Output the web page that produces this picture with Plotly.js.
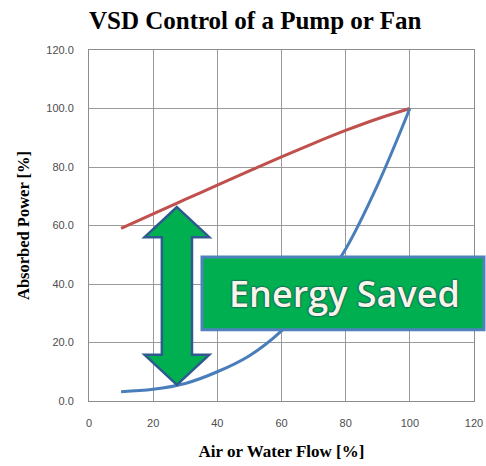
<!DOCTYPE html>
<html><head><meta charset="utf-8">
<script src="https://cdn.plot.ly/plotly-3.0.1.min.js"></script>
<style>html,body{margin:0;padding:0;background:#fff}#chart{width:486px;height:466px}</style>
</head><body><div id="chart"></div>
<script>
const flow = [10, 20, 30, 40, 50, 60, 70, 80, 90, 100];
const throttlePower = [59.0, 64.0, 68.9, 73.8, 78.7, 83.5, 88.1, 92.5, 96.5, 100.0];
const vsdPower = [3.2, 4.0, 6.0, 10.0, 15.5, 24.0, 36.0, 52.0, 74.0, 100.0];
const xTicks = [0, 20, 40, 60, 80, 100, 120];
const yTicks = [0, 20, 40, 60, 80, 100, 120];
const arrowX = 27.4, arrowTop = 66.3, arrowBottom = 5.5;

const hw = 10.1, sw = 4.7, hh = 10.3;
const arrowPath = `M ${arrowX},${arrowTop} L ${arrowX+hw},${arrowTop-hh} L ${arrowX+sw},${arrowTop-hh} L ${arrowX+sw},${arrowBottom+hh} L ${arrowX+hw},${arrowBottom+hh} L ${arrowX},${arrowBottom} L ${arrowX-hw},${arrowBottom+hh} L ${arrowX-sw},${arrowBottom+hh} L ${arrowX-sw},${arrowTop-hh} L ${arrowX-hw},${arrowTop-hh} Z`;

const traces = [
  {x: flow, y: throttlePower, mode: 'lines', line: {color: '#C0504D', width: 3, shape: 'spline'}, hoverinfo: 'skip'},
  {x: flow, y: vsdPower, mode: 'lines', line: {color: '#4A7EBB', width: 3, shape: 'spline'}, hoverinfo: 'skip'}
];
const axisCommon = {
  showgrid: true, gridcolor: '#9a9a9a', gridwidth: 1,
  showline: true, linecolor: '#8c8c8c', linewidth: 1, mirror: true,
  zeroline: false, ticks: '', tickfont: {family: 'Liberation Sans, Arial', size: 11, color: '#4d4d4d'},
  ticklabelstandoff: 12, fixedrange: true
};
const layout = {
  width: 486, height: 466,
  margin: {l: 89, r: 12, t: 50, b: 65},
  paper_bgcolor: '#fff', plot_bgcolor: '#fff',
  showlegend: false,
  title: {text: 'VSD Control of a Pump or Fan', x: 0.525, xanchor: 'center', y: 0.957, yanchor: 'middle',
    font: {family: 'Liberation Serif, serif', size: 25, color: '#000', weight: 'bold'}},
  xaxis: Object.assign({}, axisCommon, {range: [0, 120], tickvals: xTicks, ticktext: xTicks.map(String),
    title: {text: 'Air or Water Flow [%]', standoff: 16, font: {family: 'Liberation Serif, serif', size: 17, color: '#000', weight: 'bold'}}}),
  yaxis: Object.assign({}, axisCommon, {range: [0, 120], tickvals: yTicks, ticktext: yTicks.map(v => v.toFixed(1)),
    title: {text: 'Absorbed Power [%]', standoff: 12, font: {family: 'Liberation Serif, serif', size: 16.5, color: '#000', weight: 'bold'}}}),
  shapes: [
    {type: 'path', xref: 'x', yref: 'y', path: arrowPath, fillcolor: '#00B050', line: {color: '#2E5A8F', width: 2.5}, layer: 'above'},
    {type: 'rect', xref: 'paper', yref: 'paper', x0: 0.2935, x1: 1.026, y0: 0.203, y1: 0.41,
      fillcolor: '#00B050', line: {color: '#4F81BD', width: 3}, layer: 'above'}
  ],
  annotations: [
    {xref: 'paper', yref: 'paper', x: 0.663, y: 0.3065, xanchor: 'center', yanchor: 'middle', showarrow: false,
      text: 'Energy Saved', font: {family: 'Open Sans, sans-serif', size: 36, weight: 600, color: '#F7F5E6', shadow: '0 0 2px #1F3864, 0 0 2px #1F3864'}}
  ]
};
Plotly.newPlot('chart', traces, layout, {staticPlot: true, displayModeBar: false});
</script></body></html>
